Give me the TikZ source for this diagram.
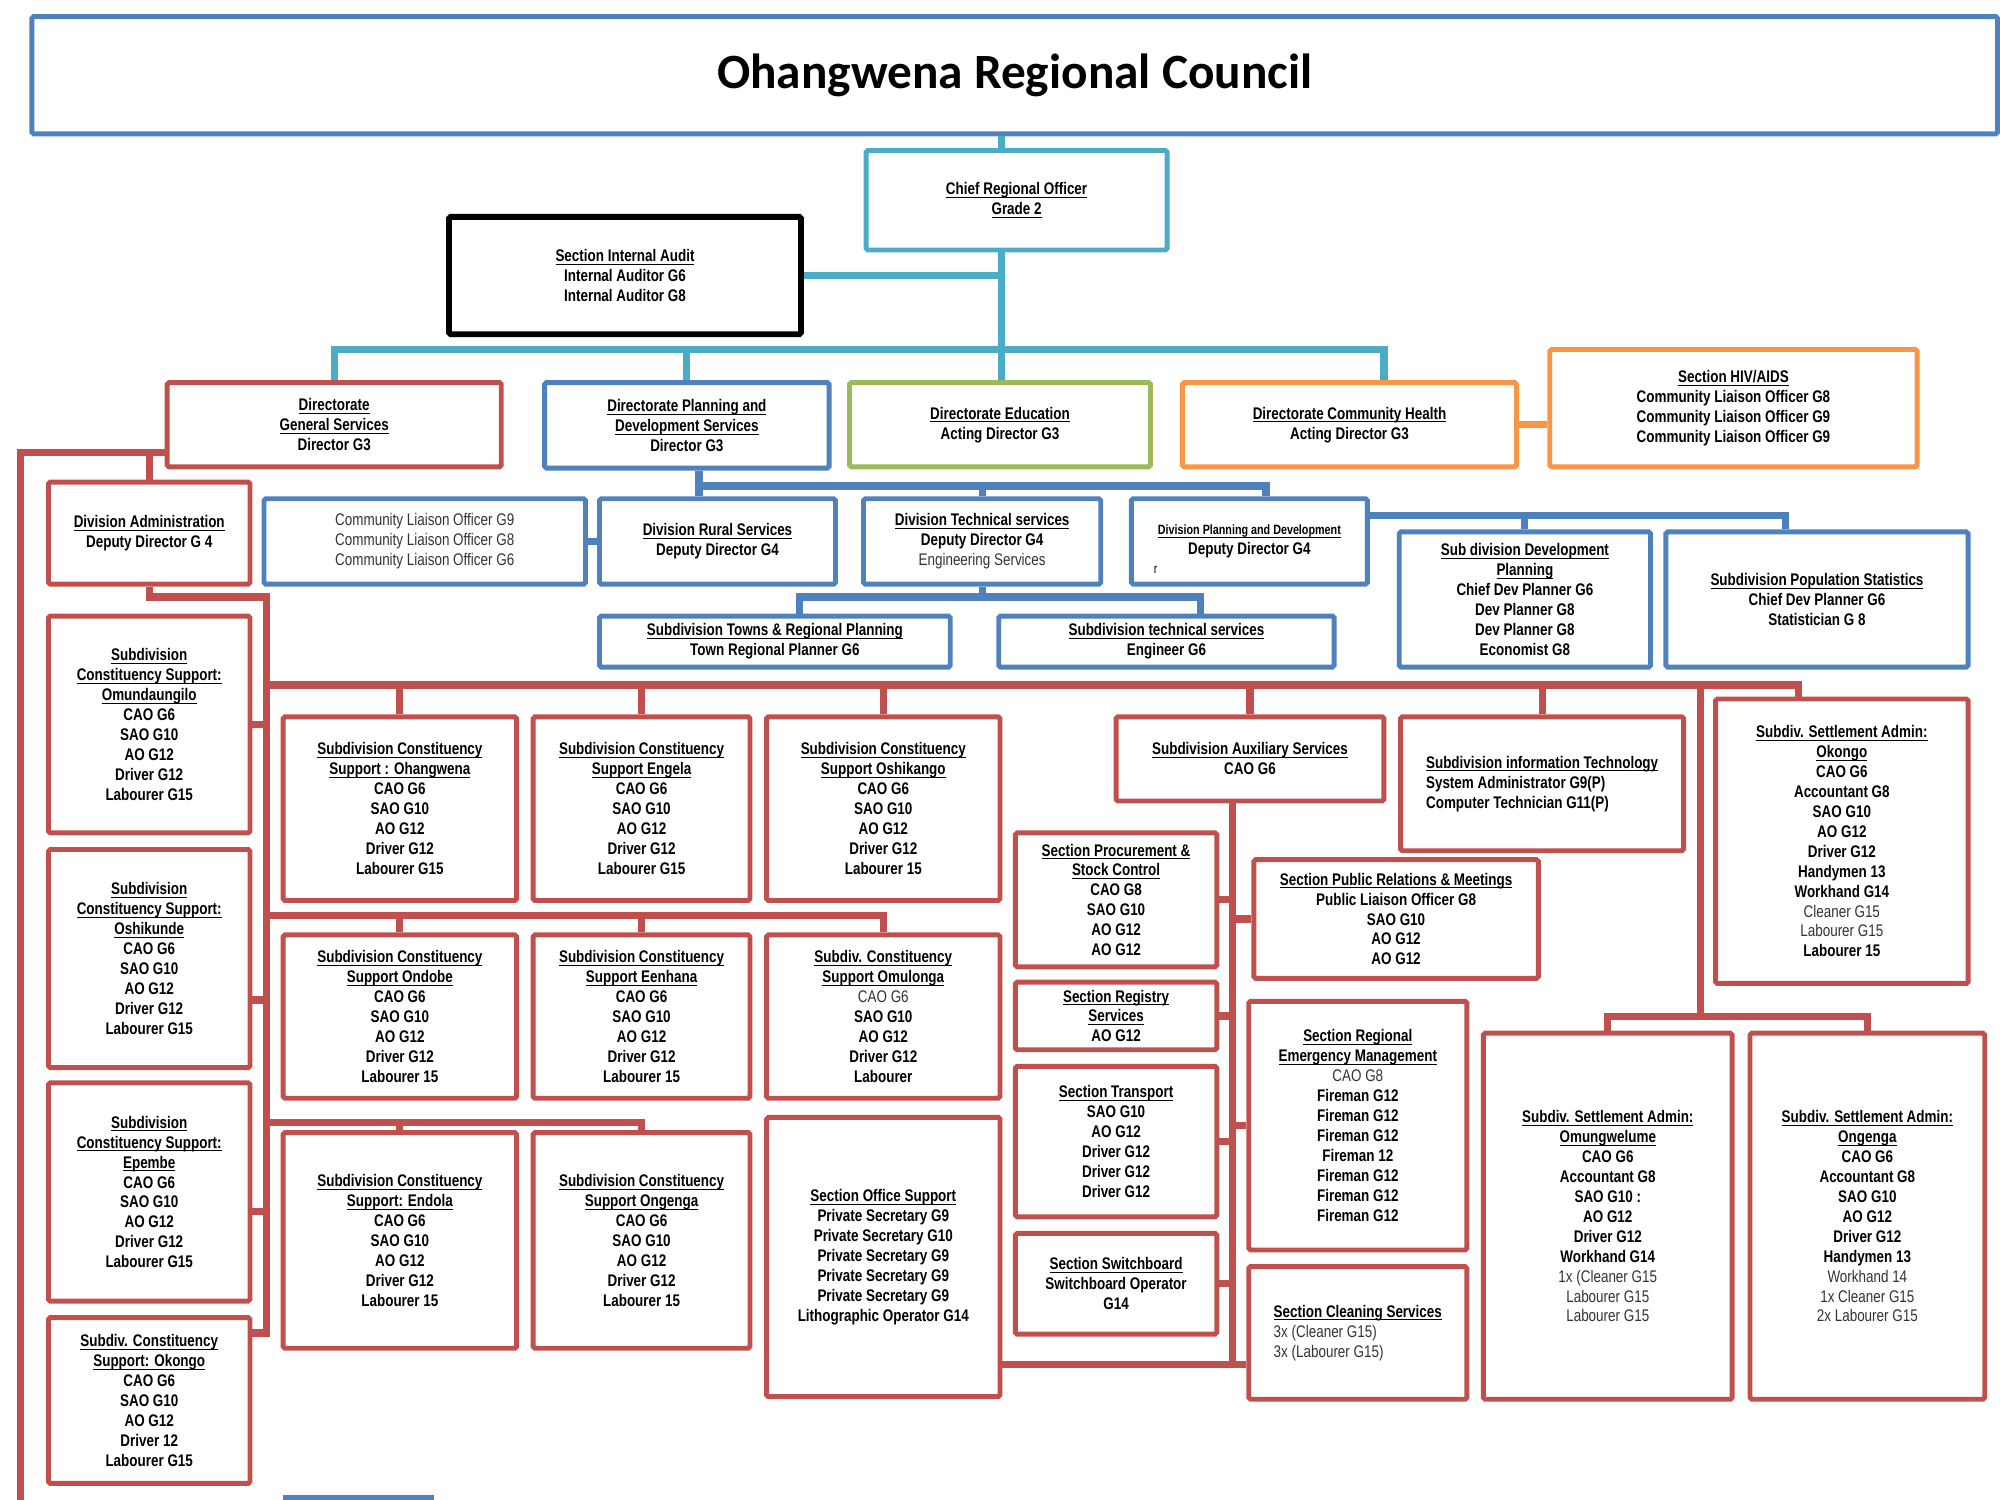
\documentclass[tikz,border=0pt]{standalone}
\usepackage{fontspec}
\setmainfont{Liberation Sans}[FakeStretch=0.8]
\newfontfamily\titlefont{Carlito}
\usepackage{tikz}
\usetikzlibrary{calc,positioning}
\definecolor{ocblue}{RGB}{79,129,189}
\definecolor{occyan}{RGB}{75,172,198}
\definecolor{ocred}{RGB}{192,80,77}
\definecolor{ocgreen}{RGB}{155,187,89}
\definecolor{ocorange}{RGB}{247,150,70}
\newcommand{\orgfont}{\fontsize{7.5}{8.9}\selectfont\bfseries}
\newcommand{\hd}[1]{\sbox0{#1}\rlap{\rule[-1.4pt]{\wd0}{0.45pt}}\usebox0}
\newcommand{\lt}[1]{{\mdseries\color{black!80}#1}}
\newcommand{\orgbox}[7]{\node[#2, minimum width={(#5-#3)*0.02cm}, minimum height={(#6-#4)*0.02cm}] (#1) at ({(#3+#5)/2},{(#4+#6)/2}) {#7};}
\tikzstyle{box}        = [draw, line width=2.2pt, fill=white, align=center, inner sep=0pt, rounded corners=0.8pt, font=\orgfont]
\tikzstyle{redbox}     = [box, draw=ocred]
\tikzstyle{bluebox}    = [box, draw=ocblue]
\tikzstyle{cyanbox}    = [box, draw=occyan]
\tikzstyle{greenbox}   = [box, draw=ocgreen]
\tikzstyle{orangebox}  = [box, draw=ocorange]
\tikzstyle{blackbox}   = [box, draw=black, line width=2.6pt]
\tikzstyle{conn}       = [line width=3.2pt]
\tikzstyle{redline}    = [conn, draw=ocred]
\tikzstyle{blueline}   = [conn, draw=ocblue]
\tikzstyle{cyanline}   = [conn, draw=occyan]
\tikzstyle{orangeline} = [conn, draw=ocorange]
\begin{document}
\begin{tikzpicture}[x=0.02cm, y=-0.02cm]
        \useasboundingbox (0,0) rectangle (1568,1176);

        \orgbox{title}{bluebox}{25}{13}{1566}{105}{{\titlefont\fontsize{22}{24}\selectfont Ohangwena Regional Council}}
        \orgbox{cro}{cyanbox}{679}{118}{915}{196}{\hd{Chief Regional Officer}\\ \hd{Grade 2}}
        \orgbox{audit}{blackbox}{352}{170}{628}{262}{\hd{Section Internal Audit}\\ Internal  Auditor G6\\ Internal Auditor G8}
        \orgbox{gensvc}{redbox}{131}{300}{393}{366}{\hd{Directorate}\\ \hd{General Services}\\ Director  G3}
        \orgbox{planning}{bluebox}{427}{300}{650}{367}{\hd{Directorate Planning and}\\ \hd{Development Services}\\ Director G3}
        \orgbox{edu}{greenbox}{666}{300}{902}{366}{\hd{Directorate Education}\\ Acting Director G3}
        \orgbox{comhealth}{orangebox}{927}{300}{1189}{366}{\hd{Directorate Community Health}\\ Acting Director G3}
        \orgbox{hiv}{orangebox}{1215}{274}{1503}{366}{\hd{Section HIV/AIDS}\\ Community Liaison Officer G8\\ Community Liaison Officer  G9\\ Community Liaison Officer G9}

        \orgbox{divadmin}{redbox}{38}{378}{196}{458}{\hd{Division Administration}\\ Deputy Director G 4}
        \orgbox{cliaison}{bluebox}{207}{391}{459}{458}{\lt{Community Liaison Officer G9}\\ \lt{Community Liaison Officer G8}\\ \lt{Community Liaison Officer G6}}
        \orgbox{rural}{bluebox}{470}{391}{655}{458}{\hd{Division Rural Services}\\ Deputy Director G4}
        \orgbox{techdiv}{bluebox}{677}{391}{863}{458}{\hd{Division Technical services}\\ Deputy Director G4\\ \lt{Engineering Services}}
        \orgbox{plandiv}{bluebox}{887}{391}{1072}{458}{{\fontsize{6}{8}\selectfont\hd{Division Planning and Development}}\\ Deputy Director G4}
        \node[font=\fontsize{6}{7}\selectfont] (stray) at (906,447) {r};
        \orgbox{subdev}{bluebox}{1097}{417}{1294}{523}{\hd{Sub division Development}\\ \hd{Planning}\\ Chief Dev Planner  G6\\ Dev Planner G8\\ Dev Planner  G8\\ Economist  G8}
        \orgbox{popstat}{bluebox}{1306}{417}{1543}{523}{\hd{Subdivision Population Statistics}\\ Chief Dev Planner  G6\\ Statistician G 8}
        \orgbox{towns}{bluebox}{470}{483}{745}{523}{\hd{Subdivision Towns \& Regional Planning}\\ Town Regional Planner  G6}
        \orgbox{subtech}{bluebox}{783}{483}{1046}{523}{\hd{Subdivision technical services}\\ Engineer  G6}

        \orgbox{omund}{redbox}{38}{483}{196}{653}{\hd{Subdivision}\\ \hd{Constituency Support:}\\ \hd{Omundaungilo}\\ CAO G6\\ SAO G10\\ AO G12\\ Driver G12\\ Labourer G15}
        \orgbox{oshik}{redbox}{38}{666}{196}{837}{\hd{Subdivision}\\ \hd{Constituency Support:}\\ \hd{Oshikunde}\\ CAO G6\\ SAO G10\\ AO G12\\ Driver G12\\ Labourer G15}
        \orgbox{epembe}{redbox}{38}{849}{196}{1020}{\hd{Subdivision}\\ \hd{Constituency Support:}\\ \hd{Epembe}\\ CAO G6\\ SAO G10\\ AO G12\\ Driver G12\\ Labourer G15}
        \orgbox{okongoC}{redbox}{38}{1033}{196}{1163}{\hd{Subdiv.  Constituency}\\ \hd{Support: Okongo}\\ CAO G6\\ SAO G10\\ AO G12\\ Driver 12\\ Labourer G15}

        \orgbox{ohangwena}{redbox}{222}{562}{405}{706}{\hd{Subdivision  Constituency}\\ \hd{Support : Ohangwena}\\ CAO G6\\ SAO G10\\ AO G12\\ Driver G12\\ Labourer G15}
        \orgbox{engela}{redbox}{418}{562}{588}{706}{\hd{Subdivision  Constituency}\\ \hd{Support Engela}\\ CAO G6\\ SAO G10\\ AO G12\\ Driver G12\\ Labourer G15}
        \orgbox{oshikango}{redbox}{601}{562}{784}{706}{\hd{Subdivision  Constituency}\\ \hd{Support Oshikango}\\ CAO G6\\ SAO G10\\ AO G12\\ Driver G12\\ Labourer 15}
        \orgbox{ondobe}{redbox}{222}{733}{405}{861}{\hd{Subdivision Constituency}\\ \hd{Support Ondobe}\\ CAO G6\\ SAO G10\\ AO G12\\ Driver G12\\ Labourer 15}
        \orgbox{eenhana}{redbox}{418}{733}{588}{861}{\hd{Subdivision  Constituency}\\ \hd{Support Eenhana}\\ CAO G6\\ SAO G10\\ AO G12\\ Driver G12\\ Labourer  15}
        \orgbox{omulonga}{redbox}{601}{733}{784}{861}{\hd{Subdiv. Constituency}\\ \hd{Support Omulonga}\\ \lt{CAO G6}\\ SAO G10\\ AO G12\\ Driver G12\\ Labourer}
        \orgbox{endola}{redbox}{222}{888}{405}{1057}{\hd{Subdivision  Constituency}\\ \hd{Support: Endola}\\ CAO G6\\ SAO G10\\ AO G12\\ Driver G12\\ Labourer  15}
        \orgbox{ongengaC}{redbox}{418}{888}{588}{1057}{\hd{Subdivision  Constituency}\\ \hd{Support Ongenga}\\ CAO G6\\ SAO G10\\ AO G12\\ Driver G12\\ Labourer 15}
        \orgbox{office}{redbox}{601}{876}{784}{1095}{\hd{Section Office Support}\\ Private Secretary G9\\ Private Secretary G10\\ Private Secretary G9\\ Private Secretary G9\\ Private Secretary G9\\ Lithographic Operator G14}

        \orgbox{aux}{redbox}{875}{562}{1085}{628}{\hd{Subdivision Auxiliary Services}\\ CAO G6}
        \orgbox{infotech}{redbox, align=left}{1098}{562}{1320}{667}{\hd{Subdivision information Technology}\\ System Administrator G9(P)\\ Computer Technician G11(P)}
        \orgbox{okongoS}{redbox}{1345}{548}{1543}{771}{\hd{Subdiv. Settlement Admin:}\\ \hd{Okongo}\\ CAO G6\\ Accountant G8\\ SAO G10\\ AO G12\\ Driver G12\\ Handymen 13\\ Workhand G14\\ \lt{Cleaner G15}\\ \lt{Labourer  G15}\\ Labourer 15}
        \orgbox{procure}{redbox}{796}{653}{954}{758}{\hd{Section Procurement \&}\\ \hd{Stock Control}\\ CAO G8\\ SAO G10\\ AO G12\\ AO G12}
        \orgbox{pubrel}{redbox}{983}{674}{1206}{767}{\hd{Section Public Relations \& Meetings}\\ Public Liaison Officer G8\\ SAO G10\\ AO G12\\ AO G12}
        \orgbox{registry}{redbox}{796}{770}{954}{823}{\hd{Section Registry}\\ \hd{Services}\\ AO G12}
        \orgbox{transport}{redbox}{796}{836}{954}{954}{\hd{Section Transport}\\ SAO G10\\ AO G12\\ Driver G12\\ Driver G12\\ Driver G12}
        \orgbox{emergency}{redbox}{979}{785}{1150}{980}{\hd{Section Regional}\\ \hd{Emergency Management}\\ \lt{CAO G8}\\ Fireman G12\\ Fireman G12\\ Fireman G12\\ Fireman 12\\ Fireman G12\\ Fireman G12\\ Fireman G12}
        \orgbox{switchb}{redbox}{796}{967}{954}{1046}{\hd{Section Switchboard}\\ Switchboard Operator\\ G14}
        \orgbox{cleaning}{redbox, align=left}{979}{993}{1150}{1097}{\hd{Section Cleaning Services}\\ \lt{3x (Cleaner G15)}\\ \lt{3x (Labourer G15)}}
        \orgbox{omungw}{redbox}{1163}{810}{1358}{1097}{\hd{Subdiv. Settlement Admin:}\\ \hd{Omungwelume}\\ CAO G6\\ Accountant G8\\ SAO G10 :\\ AO G12\\ Driver G12\\ Workhand G14\\ \lt{1x (Cleaner G15}\\ \lt{Labourer G15}\\ \lt{Labourer G15}}
        \orgbox{ongengaS}{redbox}{1372}{810}{1556}{1097}{\hd{Subdiv. Settlement Admin:}\\ \hd{Ongenga}\\ CAO G6\\ Accountant G8\\ SAO G10\\ AO G12\\ Driver G12\\ Handymen  13\\ \lt{Workhand 14}\\ \lt{1x Cleaner G15}\\ \lt{2x Labourer G15}}

        \coordinate (crospine) at (785,274);
        \coordinate (chdrop) at (1085,274);
        \draw[cyanline] (title.south -| crospine) -- (cro.north -| crospine);
        \draw[cyanline] (cro.south -| crospine) -- (crospine);
        \draw[cyanline] (audit.east) -- (audit.east -| crospine);
        \draw[cyanline] (gensvc.north) |- (crospine) -- (chdrop) -- (chdrop |- comhealth.north);
        \draw[cyanline] (planning.north) -- (planning.north |- crospine);
        \draw[cyanline] (crospine) -- (edu.north -| crospine);
        \draw[orangeline] (comhealth.east) -- (comhealth.east -| hiv.west);

        \coordinate (pbus) at (548,381);
        \coordinate (dbus) at (1400,404);
        \coordinate (tbus) at (627,468);
        \coordinate (tbusr) at (941,468);
        \draw[blueline] (planning.south -| pbus) -- (rural.north -| pbus);
        \draw[blueline] (pbus) -| (techdiv.north);
        \draw[blueline] (pbus) -| ($(plandiv.north)+(13,0)$);
        \draw[blueline] (cliaison.east) -- (rural.west);
        \draw[blueline] (dbus -| plandiv.east) -- (dbus) -- (dbus |- popstat.north);
        \draw[blueline] (subdev.north) -- (subdev.north |- dbus);
        \draw[blueline] (techdiv.south) -- (techdiv.south |- tbus);
        \draw[blueline] (tbus |- towns.north) -- (tbus) -- (tbusr) -- (tbusr |- subtech.north);

        \coordinate (lrail) at (16,355);
        \coordinate (lbot) at (16,1176);
        \coordinate (gspine) at (209,468);
        \coordinate (gspineend) at (209,1045);
        \coordinate (oshikstub) at (196,784);
        \coordinate (epembestub) at (196,950);
        \draw[redline] (lrail -| gensvc.west) -- (lrail) -- (lbot);
        \draw[redline] (lrail -| divadmin.north) -- (divadmin.north);
        \draw[redline] (divadmin.south) |- (gspine) -- (gspineend) -- (gspineend -| okongoC.east);
        \draw[redline] (omund.east) -- (omund.east -| gspine);
        \draw[redline] (oshikstub) -- (oshikstub -| gspine);
        \draw[redline] (epembestub) -- (epembestub -| gspine);

        \coordinate (mbus) at (209,537);
        \coordinate (mbusend) at (1410,537);
        \coordinate (sbus) at (1333,797);
        \draw[redline] (mbus) -- (mbusend) -- (mbusend |- okongoS.north);
        \draw[redline] (ohangwena.north) -- (ohangwena.north |- mbus);
        \draw[redline] (engela.north) -- (engela.north |- mbus);
        \draw[redline] (oshikango.north) -- (oshikango.north |- mbus);
        \draw[redline] (aux.north) -- (aux.north |- mbus);
        \draw[redline] (infotech.north) -- (infotech.north |- mbus);
        \draw[redline] (mbus -| sbus) -- (sbus);
        \draw[redline] (omungw.north) |- (sbus) -| (ongengaS.north);

        \coordinate (bus2) at (209,718);
        \coordinate (bus3) at (209,880);
        \draw[redline] (bus2) -| (omulonga.north);
        \draw[redline] (ondobe.north) -- (ondobe.north |- bus2);
        \draw[redline] (eenhana.north) -- (eenhana.north |- bus2);
        \draw[redline] (bus3) -| (ongengaC.north);
        \draw[redline] (endola.north) -- (endola.north |- bus3);

        \coordinate (auxbot) at (966,1070);
        \draw[redline] (aux.south -| auxbot) -- (auxbot);
        \draw[redline] (procure.east) -- (procure.east -| auxbot);
        \draw[redline] (registry.east) -- (registry.east -| auxbot);
        \draw[redline] (transport.east) -- (transport.east -| auxbot);
        \draw[redline] (switchb.east) -- (switchb.east -| auxbot);
        \draw[redline] (pubrel.west) -- (pubrel.west -| auxbot);
        \draw[redline] (emergency.west) -- (emergency.west -| auxbot);
        \draw[redline] (office.east |- auxbot) -- (auxbot) -- (auxbot -| cleaning.west);

        \draw[blueline] (222,1175) -- (340,1175);
    \end{tikzpicture}
\end{document}
